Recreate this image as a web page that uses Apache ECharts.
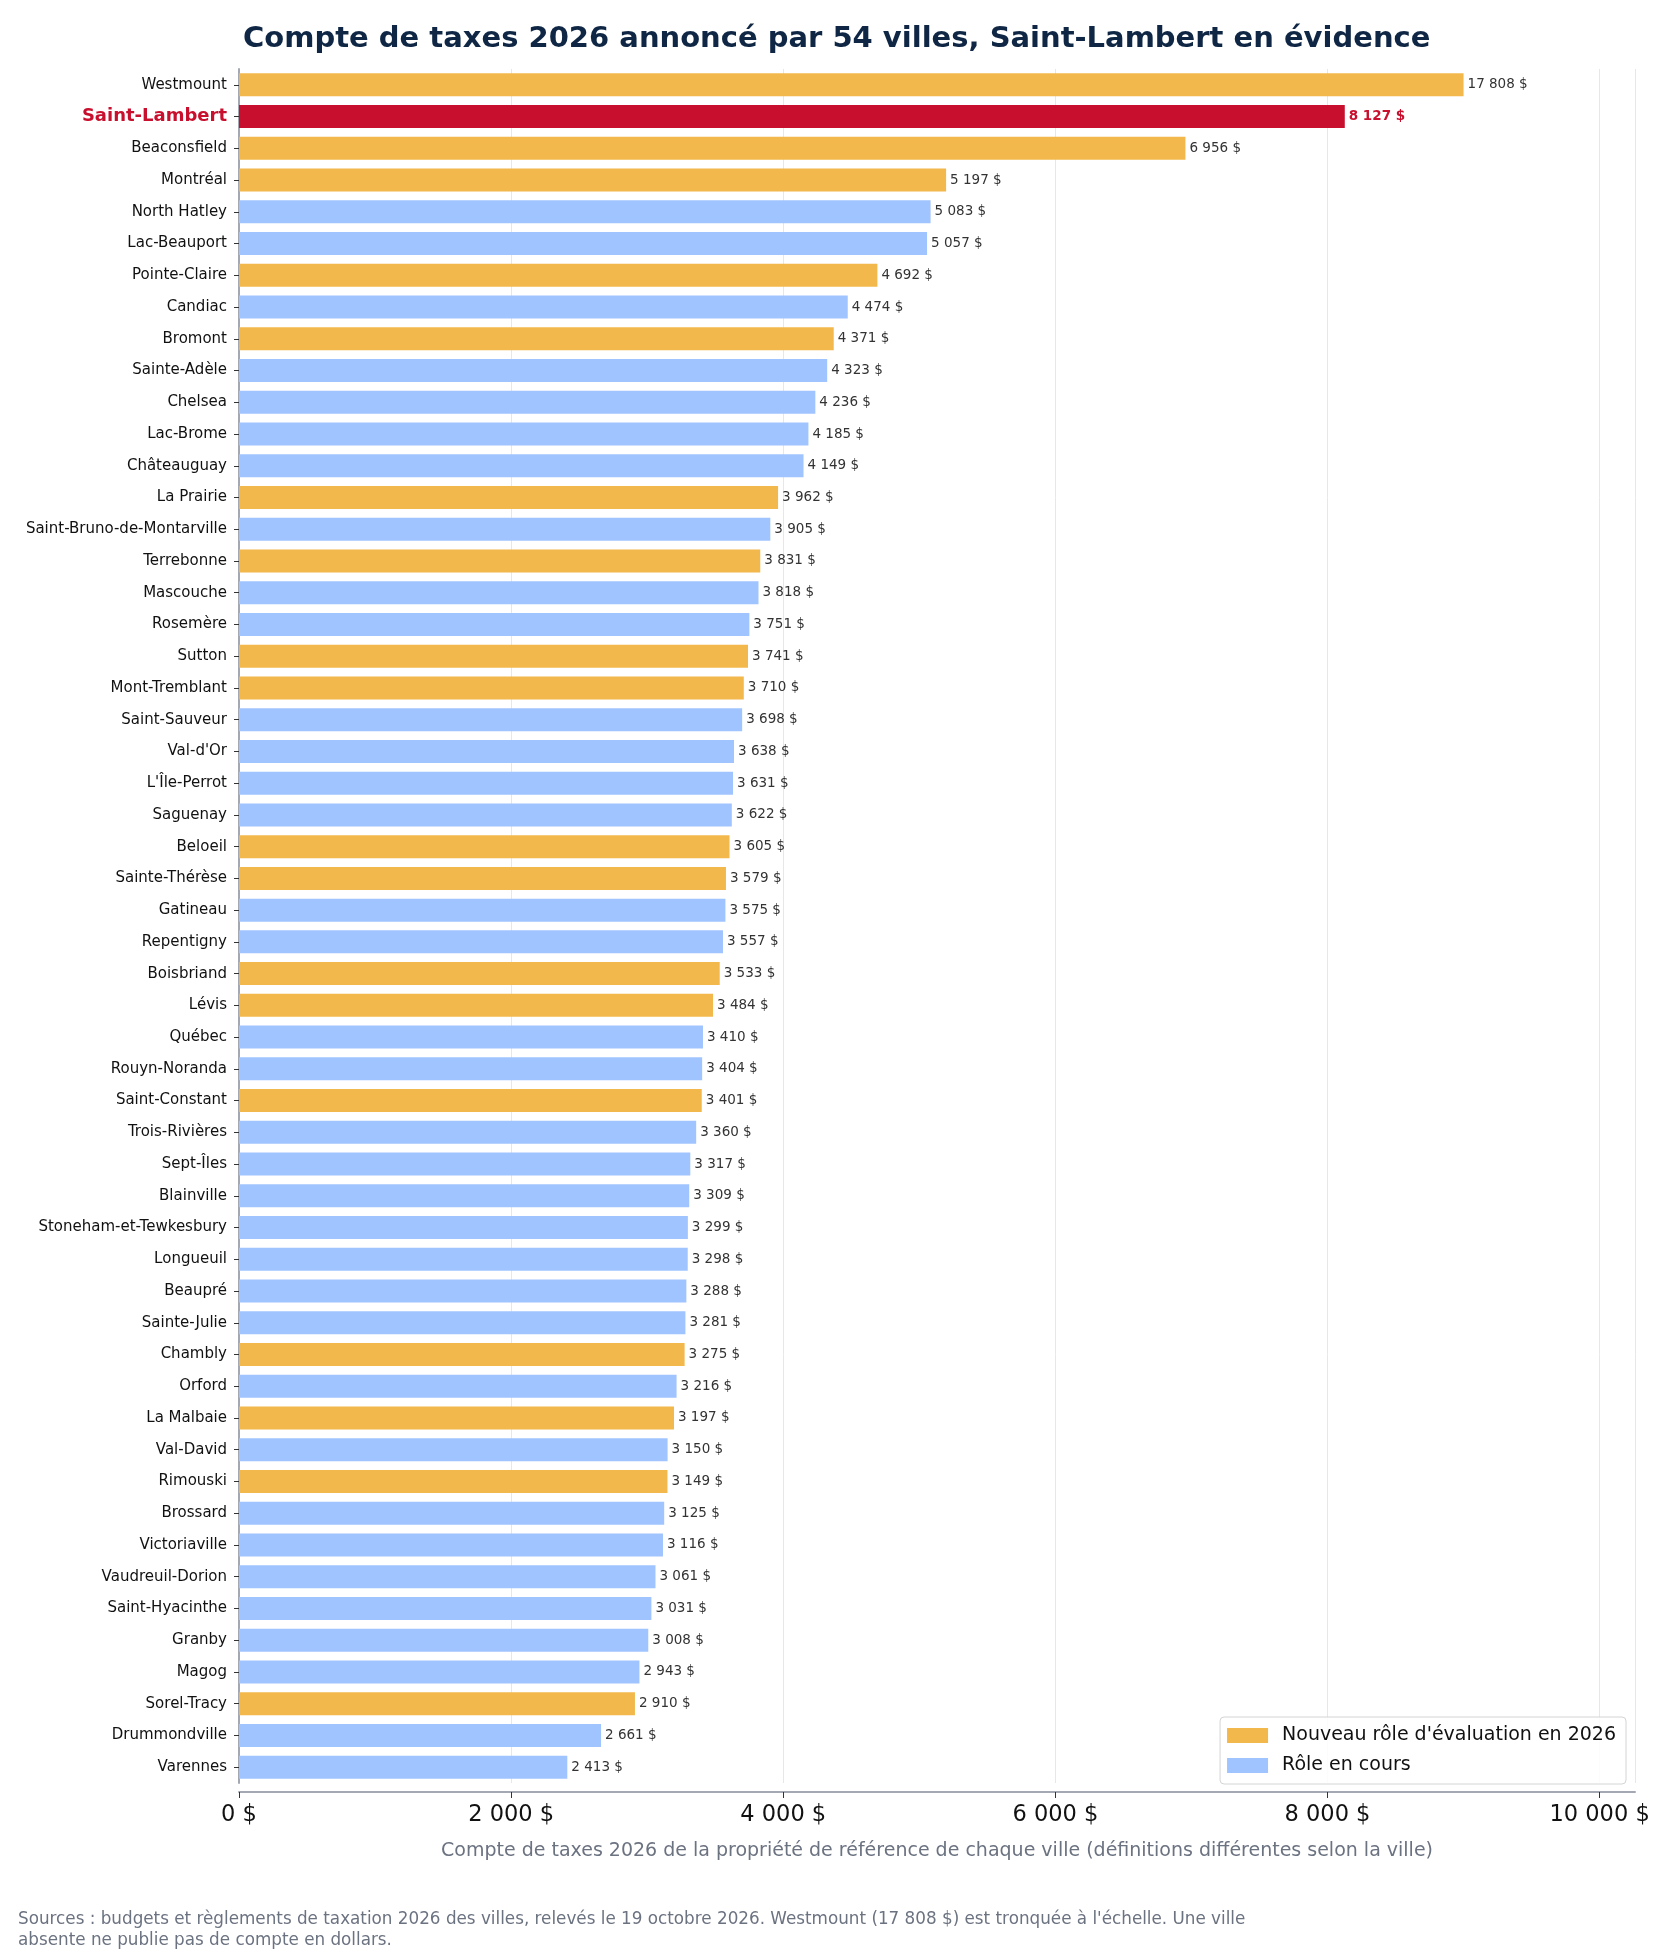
<!DOCTYPE html>
<html>
<head>
<meta charset="utf-8">
<script src="https://cdn.jsdelivr.net/npm/echarts@6/dist/echarts.min.js"></script>
<style>
  html, body { margin: 0; padding: 0; background: #fff; }
  #chart { width: 1680px; height: 1960px; }
</style>
</head>
<body>
<div id="chart"></div>
<script>
// villes, du plus haut au plus bas
const cities = [
  'Westmount', 'Saint-Lambert', 'Beaconsfield', 'Montréal', 'North Hatley', 'Lac-Beauport',
  'Pointe-Claire', 'Candiac', 'Bromont', 'Sainte-Adèle', 'Chelsea', 'Lac-Brome', 'Châteauguay',
  'La Prairie', 'Saint-Bruno-de-Montarville', 'Terrebonne', 'Mascouche', 'Rosemère', 'Sutton',
  'Mont-Tremblant', 'Saint-Sauveur', "Val-d'Or", "L'Île-Perrot", 'Saguenay', 'Beloeil',
  'Sainte-Thérèse', 'Gatineau', 'Repentigny', 'Boisbriand', 'Lévis', 'Québec', 'Rouyn-Noranda',
  'Saint-Constant', 'Trois-Rivières', 'Sept-Îles', 'Blainville', 'Stoneham-et-Tewkesbury',
  'Longueuil', 'Beaupré', 'Sainte-Julie', 'Chambly', 'Orford', 'La Malbaie', 'Val-David',
  'Rimouski', 'Brossard', 'Victoriaville', 'Vaudreuil-Dorion', 'Saint-Hyacinthe', 'Granby',
  'Magog', 'Sorel-Tracy', 'Drummondville', 'Varennes'
];
const taxes = [
  17808, 8127, 6956, 5197, 5083, 5057,
  4692, 4474, 4371, 4323, 4236, 4185, 4149,
  3962, 3905, 3831, 3818, 3751, 3741,
  3710, 3698, 3638, 3631, 3622, 3605,
  3579, 3575, 3557, 3533, 3484, 3410, 3404,
  3401, 3360, 3317, 3309, 3299,
  3298, 3288, 3281, 3275, 3216, 3197, 3150,
  3149, 3125, 3116, 3061, 3031, 3008,
  2943, 2910, 2661, 2413
];
// N = nouveau rôle 2026, C = rôle en cours
const roles = [
  'N', 'N', 'N', 'N', 'C', 'C',
  'N', 'C', 'N', 'C', 'C', 'C', 'C',
  'N', 'C', 'N', 'C', 'C', 'N',
  'N', 'C', 'C', 'C', 'C', 'N',
  'N', 'C', 'C', 'N', 'N', 'C', 'C',
  'N', 'C', 'C', 'C', 'C',
  'C', 'C', 'C', 'N', 'C', 'N', 'C',
  'N', 'C', 'C', 'C', 'C', 'C',
  'C', 'N', 'C', 'C'
];
const highlight = 'Saint-Lambert';
const axisCap = 9000;   // Westmount tronquée à l'échelle
const xTicks = [0, 2000, 4000, 6000, 8000, 10000];

const ORANGE = '#F2B84B';
const BLUE = '#A0C4FF';
const RED = '#C8102E';

function fmt(v) {
  return String(v).replace(/\B(?=(\d{3})+(?!\d))/g, ' ') + ' $';
}

function makeData(role) {
  return cities.map((c, i) => {
    if (roles[i] !== role) return '-';
    const item = { value: Math.min(taxes[i], axisCap), raw: taxes[i] };
    if (c === highlight) {
      item.itemStyle = { color: RED };
      item.label = { color: RED, fontWeight: 'bold' };
    }
    return item;
  });
}

const labelOpt = {
  show: true,
  position: 'right',
  distance: 4,
  fontSize: 13.5,
  fontFamily: 'DejaVu Sans',
  color: '#333',
  formatter: p => fmt(p.data.raw)
};

const chart = echarts.init(document.getElementById('chart'));
chart.setOption({
  backgroundColor: '#fff',
  animation: false,
  textStyle: { fontFamily: 'DejaVu Sans' },
  title: {
    text: 'Compte de taxes 2026 annoncé par 54 villes, Saint-Lambert en évidence',
    left: 238,
    top: 20,
    textStyle: { fontSize: 29, fontWeight: 'bold', color: '#0f2744', fontFamily: 'DejaVu Sans' }
  },
  legend: {
    orient: 'vertical',
    right: 54,
    top: 1717,
    itemWidth: 41,
    itemHeight: 15,
    itemGap: 11,
    icon: 'rect',
    padding: [9, 10, 9, 7],
    borderColor: '#d4d4d4',
    borderWidth: 1,
    borderRadius: 4,
    backgroundColor: 'rgba(255,255,255,0.85)',
    textStyle: { fontSize: 19, color: '#111', fontFamily: 'DejaVu Sans', padding: [0, 0, 0, 9] },
    data: ["Nouveau rôle d'évaluation en 2026", 'Rôle en cours']
  },
  grid: { left: 239, right: 45, top: 69, bottom: 177, containLabel: false },
  xAxis: {
    type: 'value',
    min: 0,
    max: 10260,
    interval: 2000,
    offset: 9,
    axisLine: { show: true, lineStyle: { color: '#a3a8b3', width: 2 } },
    axisTick: { show: true, length: 6, lineStyle: { color: '#333' } },
    axisLabel: {
      fontSize: 22.5, color: '#111', margin: 12,
      showMaxLabel: false,
      formatter: v => xTicks.includes(v) ? fmt(v) : ''
    },
    splitLine: { show: true, lineStyle: { color: '#e5e7eb', width: 1 } },
    name: 'Compte de taxes 2026 de la propriété de référence de chaque ville (définitions différentes selon la ville)',
    nameLocation: 'middle',
    nameGap: 50,
    nameTextStyle: { fontSize: 19, color: '#6b7280' }
  },
  yAxis: {
    type: 'category',
    inverse: true,
    data: cities,
    axisLine: { show: true, lineStyle: { color: '#a3a8b3', width: 2 } },
    axisTick: { show: true, length: 5, alignWithLabel: true, lineStyle: { color: '#333' } },
    axisLabel: {
      fontSize: 15, color: '#111', margin: 12,
      formatter: v => v === highlight ? '{hl|' + v + '}' : v,
      rich: { hl: { fontSize: 18, fontWeight: 'bold', color: RED, fontFamily: 'DejaVu Sans' } }
    }
  },
  series: [
    {
      name: "Nouveau rôle d'évaluation en 2026",
      type: 'bar',
      barWidth: 23,
      barGap: '-100%',
      itemStyle: { color: ORANGE },
      label: labelOpt,
      data: makeData('N')
    },
    {
      name: 'Rôle en cours',
      type: 'bar',
      barWidth: 23,
      barGap: '-100%',
      itemStyle: { color: BLUE },
      label: labelOpt,
      data: makeData('C')
    }
  ],
  graphic: [{
    type: 'text',
    left: 18,
    top: 1909,
    style: {
      text: "Sources : budgets et règlements de taxation 2026 des villes, relevés le 19 octobre 2026. Westmount (17 808 $) est tronquée à l'échelle. Une ville\nabsente ne publie pas de compte en dollars.",
      fontSize: 16.8,
      lineHeight: 21,
      fill: '#6b7280',
      fontFamily: 'DejaVu Sans'
    }
  }]
});
</script>
</body>
</html>
